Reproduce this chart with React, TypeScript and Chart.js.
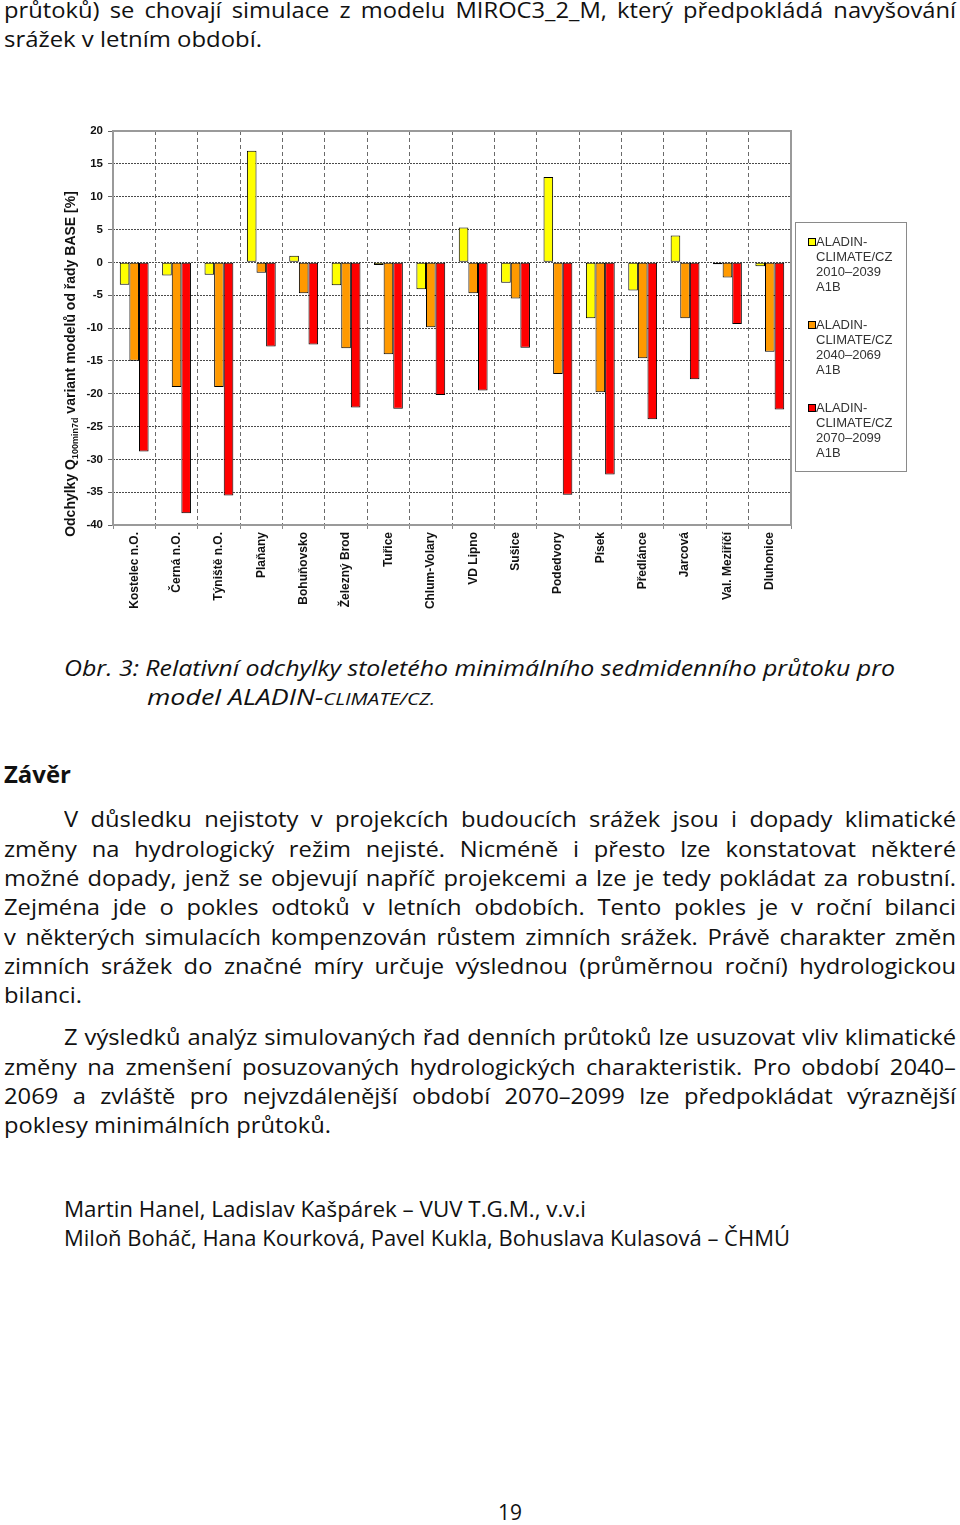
import React, { useEffect, useLayoutEffect, useRef, useState } from "react";
import { Chart, registerables } from "chart.js";

Chart.register(...registerables);

// ---------- DATA ----------
const categories = [
  "Kostelec n.O.",
  "Černá n.O.",
  "Týniště n.O.",
  "Plaňany",
  "Bohuňovsko",
  "Železný Brod",
  "Tuřice",
  "Chlum-Volary",
  "VD Lipno",
  "Sušice",
  "Podedvory",
  "Písek",
  "Předlánce",
  "Jarcová",
  "Val. Meziříčí",
  "Dluhonice",
];

const series2010_2039 = [-3.4, -2, -1.9, 17, 1, -3.5, -0.4, -4.1, 5.3, -3.1, 13, -8.5, -4.3, 4.1, -0.3, -0.6];
const series2040_2069 = [-15, -19, -19, -1.6, -4.7, -13.1, -14, -9.9, -4.7, -5.5, -17, -19.8, -14.6, -8.5, -2.3, -13.6];
const series2070_2099 = [-28.8, -38.2, -35.5, -12.8, -12.5, -22.1, -22.3, -20.2, -19.5, -13, -35.4, -32.3, -23.9, -17.8, -9.4, -22.4];

const seriesNames = [
  "ALADIN-CLIMATE/CZ 2010–2039 A1B",
  "ALADIN-CLIMATE/CZ 2040–2069 A1B",
  "ALADIN-CLIMATE/CZ 2070–2099 A1B",
];
const legendLines = [
  ["ALADIN-", "CLIMATE/CZ", "2010–2039", "A1B"],
  ["ALADIN-", "CLIMATE/CZ", "2040–2069", "A1B"],
  ["ALADIN-", "CLIMATE/CZ", "2070–2099", "A1B"],
];
const seriesColors = ["#FFFF00", "#FF9900", "#FF0000"];

const yMin = -40;
const yMax = 20;
const yStep = 5;

const yTitleParts: [string, boolean][] = [
  ["Odchylky Q", false],
  ["100min7d", true],
  [" variant modelů od řady BASE [%]", false],
];

// ---------- PAGE TEXT ----------
const topLines = [
  "průtoků) se chovají simulace z modelu MIROC3_2_M, který předpokládá navyšování",
  "srážek v letním období.",
];
const captionLine1 = "Obr. 3: Relativní odchylky stoletého minimálního sedmidenního průtoku pro";
const captionLine2a = "model ALADIN-";
const captionLine2b = "CLIMATE/CZ.";
const heading = "Závěr";
const para1 = [
  "V důsledku nejistoty v projekcích budoucích srážek jsou i dopady klimatické",
  "změny na hydrologický režim nejisté. Nicméně i přesto lze konstatovat některé",
  "možné dopady, jenž se objevují napříč projekcemi a lze je tedy pokládat za robustní.",
  "Zejména jde o pokles odtoků v letních obdobích. Tento pokles je v roční bilanci",
  "v některých simulacích kompenzován růstem zimních srážek. Právě charakter změn",
  "zimních srážek do značné míry určuje výslednou (průměrnou roční) hydrologickou",
  "bilanci.",
];
const para2 = [
  "Z výsledků analýz simulovaných řad denních průtoků lze usuzovat vliv klimatické",
  "změny na zmenšení posuzovaných hydrologických charakteristik. Pro období 2040–",
  "2069 a zvláště pro nejvzdálenější období 2070–2099 lze předpokládat výraznější",
  "poklesy minimálních průtoků.",
];
const authors = [
  "Martin Hanel, Ladislav Kašpárek – VUV T.G.M., v.v.i",
  "Miloň Boháč, Hana Kourková, Pavel Kukla, Bohuslava Kulasová – ČHMÚ",
];
const pageNumber = "19";

const TEXT_FONT = "'Open Sans', Lato, 'DejaVu Sans', sans-serif";
const CHART_FONT = "Arial, 'Liberation Sans', Helvetica, sans-serif";

// ---------- PLUGINS ----------
const framePlugin = {
  id: "frame",
  afterDatasetsDraw(chart: any) {
    const { ctx, chartArea } = chart;
    ctx.save();
    ctx.strokeStyle = "#9a9a9a";
    ctx.lineWidth = 2;
    ctx.strokeRect(chartArea.left, chartArea.top, chartArea.right - chartArea.left, chartArea.bottom - chartArea.top);
    ctx.restore();
  },
};

const yTitlePlugin = {
  id: "yTitle",
  afterDraw(chart: any) {
    const { ctx } = chart;
    const x = 15;
    const cy = 249;
    ctx.save();
    ctx.translate(x, cy);
    ctx.rotate(-Math.PI / 2);
    ctx.fillStyle = "#111";
    ctx.textBaseline = "alphabetic";
    ctx.textAlign = "left";
    const big = "bold 14px " + CHART_FONT;
    const small = "bold 9px " + CHART_FONT;
    let total = 0;
    for (const [t, sub] of yTitleParts) {
      ctx.font = sub ? small : big;
      total += ctx.measureText(t).width;
    }
    let cx = -total / 2;
    for (const [t, sub] of yTitleParts) {
      ctx.font = sub ? small : big;
      ctx.fillText(t, cx, sub ? 8 : 5);
      cx += ctx.measureText(t).width;
    }
    ctx.restore();
  },
};

const legendPlugin = {
  id: "boxLegend",
  afterDraw(chart: any) {
    const { ctx, chartArea } = chart;
    const bx = chartArea.right + 4;
    const by = 107;
    const bw = 111;
    const bh = 249;
    ctx.save();
    ctx.strokeStyle = "#8a8a8a";
    ctx.lineWidth = 1;
    ctx.strokeRect(bx + 0.5, by + 0.5, bw, bh);
    ctx.font = "13px " + CHART_FONT;
    ctx.textBaseline = "middle";
    ctx.textAlign = "left";
    chart.data.datasets.forEach((ds: any, i: number) => {
      const y0 = by + 20 + i * 83;
      ctx.fillStyle = ds.backgroundColor;
      ctx.fillRect(bx + 13.5, y0 - 3.5, 7, 7);
      ctx.strokeStyle = "#000";
      ctx.strokeRect(bx + 13.5, y0 - 3.5, 7, 7);
      ctx.fillStyle = "#333";
      legendLines[i].forEach((ln, j) => {
        ctx.fillText(ln, bx + 21, y0 + j * 15.3);
      });
    });
    ctx.restore();
  },
};

function BarChart() {
  const ref = useRef<HTMLCanvasElement | null>(null);
  useEffect(() => {
    if (!ref.current) return;
    const datasets = [series2010_2039, series2040_2069, series2070_2099].map((d, i) => ({
      label: seriesNames[i],
      data: d,
      backgroundColor: seriesColors[i],
      borderColor: "#000",
      borderWidth: 1,
      borderSkipped: false,
      categoryPercentage: 0.68,
      barPercentage: 1.0,
    }));
    const chart = new Chart(ref.current, {
      type: "bar",
      data: { labels: categories, datasets },
      options: {
        animation: false,
        responsive: false,
        layout: { padding: { left: 20, right: 124, top: 16, bottom: 0 } },
        plugins: { legend: { display: false }, tooltip: { enabled: false } },
        scales: {
          x: {
            offset: true,
            grid: { color: "#6a6a6a", lineWidth: 1, tickLength: 4, tickColor: "#888", offset: true },
            border: { display: false, dash: [4, 3] },
            ticks: {
              autoSkip: false,
              maxRotation: 90,
              minRotation: 90,
              padding: 3,
              color: "#111",
              font: { family: CHART_FONT, size: 12, weight: "bold" },
            },
            afterFit: (s: any) => {
              s.height = 100;
            },
          },
          y: {
            min: yMin,
            max: yMax,
            ticks: { stepSize: yStep, color: "#111", padding: 5, font: { family: CHART_FONT, size: 11.5, weight: "bold" } },
            grid: { color: "#4a4a4a", lineWidth: 1, tickLength: 5, tickColor: "#666" },
            border: { display: false, dash: [2, 1] },
            afterFit: (s: any) => {
              s.width = 38;
            },
          },
        },
      } as any,
      plugins: [framePlugin, yTitlePlugin, legendPlugin],
    });
    return () => chart.destroy();
  }, []);
  return <canvas ref={ref} width={860} height={510} style={{ width: 860, height: 510, display: "block" }} />;
}

// ---------- TEXT LINES ----------
const LH = 29;
const baselineOffset = (fs: number) => (LH - 1.362 * fs) / 2 + 1.069 * fs;

function FitLine({
  baseline,
  left,
  width,
  children,
  justify = false,
  fit = false,
  maxScale = 1.13,
  fontSize = 21,
  style = {},
}: any) {
  const measureRef = useRef<HTMLSpanElement | null>(null);
  const [scale, setScale] = useState<number | null>(null);
  useLayoutEffect(() => {
    if (!measureRef.current) return;
    const w = measureRef.current.getBoundingClientRect().width;
    const s = fit ? width / w : Math.min(maxScale, width / w);
    setScale(s);
  }, []);
  const common: any = {
    fontFamily: TEXT_FONT,
    fontSize,
    lineHeight: LH + "px",
    color: "#111",
    ...style,
  };
  return (
    <>
      <span
        ref={measureRef}
        style={{ ...common, position: "absolute", left: 0, top: 0, visibility: "hidden", whiteSpace: "nowrap" }}
      >
        {children}
      </span>
      {scale !== null && (
        <div
          style={{
            ...common,
            position: "absolute",
            left,
            top: baseline - baselineOffset(fontSize),
            height: LH,
            width: width / scale,
            transform: `scaleX(${scale})`,
            transformOrigin: "0 0",
            textAlign: justify ? "justify" : "left",
            textAlignLast: justify ? "justify" : "left",
            whiteSpace: justify ? "normal" : "nowrap",
          }}
        >
          {children}
        </div>
      )}
    </>
  );
}

export default function App() {
  const p1Base = [828, 857.3, 886.6, 915.9, 945.2, 974.5, 1003.8];
  const p2Base = [1046, 1075.3, 1104.6, 1133.9];
  return (
    <div style={{ position: "absolute", left: 0, top: 0, width: 960, height: 1525, background: "#fff", overflow: "hidden" }}>
      <FitLine baseline={19} left={4} width={952} justify>
        {topLines[0]}
      </FitLine>
      <FitLine baseline={48} left={4} width={258} fit>
        {topLines[1]}
      </FitLine>

      <div style={{ position: "absolute", left: 55, top: 115 }}>
        <BarChart />
      </div>

      <FitLine baseline={677} left={64} width={831} fit style={{ fontStyle: "italic" }}>
        {captionLine1}
      </FitLine>
      <FitLine baseline={706} left={147} width={288} fit style={{ fontStyle: "italic" }}>
        {captionLine2a}
        <span style={{ fontSize: 16 }}>{captionLine2b}</span>
      </FitLine>

      <FitLine baseline={783} left={4} width={67} fit fontSize={23} style={{ fontWeight: "bold" }}>
        {heading}
      </FitLine>

      {para1.map((t, i) => {
        const last = i === para1.length - 1;
        const left = i === 0 ? 64 : 4;
        return (
          <FitLine key={"p1" + i} baseline={p1Base[i]} left={left} width={last ? 78 : 956 - left} justify={!last} fit={last}>
            {t}
          </FitLine>
        );
      })}
      {para2.map((t, i) => {
        const last = i === para2.length - 1;
        const left = i === 0 ? 64 : 4;
        return (
          <FitLine key={"p2" + i} baseline={p2Base[i]} left={left} width={last ? 327 : 956 - left} justify={!last} fit={last}>
            {t}
          </FitLine>
        );
      })}
      <FitLine baseline={1218} left={64} width={522} fit>
        {authors[0]}
      </FitLine>
      <FitLine baseline={1247} left={64} width={726} fit>
        {authors[1]}
      </FitLine>
      <FitLine baseline={1521} left={498} width={24} fit>
        {pageNumber}
      </FitLine>
    </div>
  );
}
